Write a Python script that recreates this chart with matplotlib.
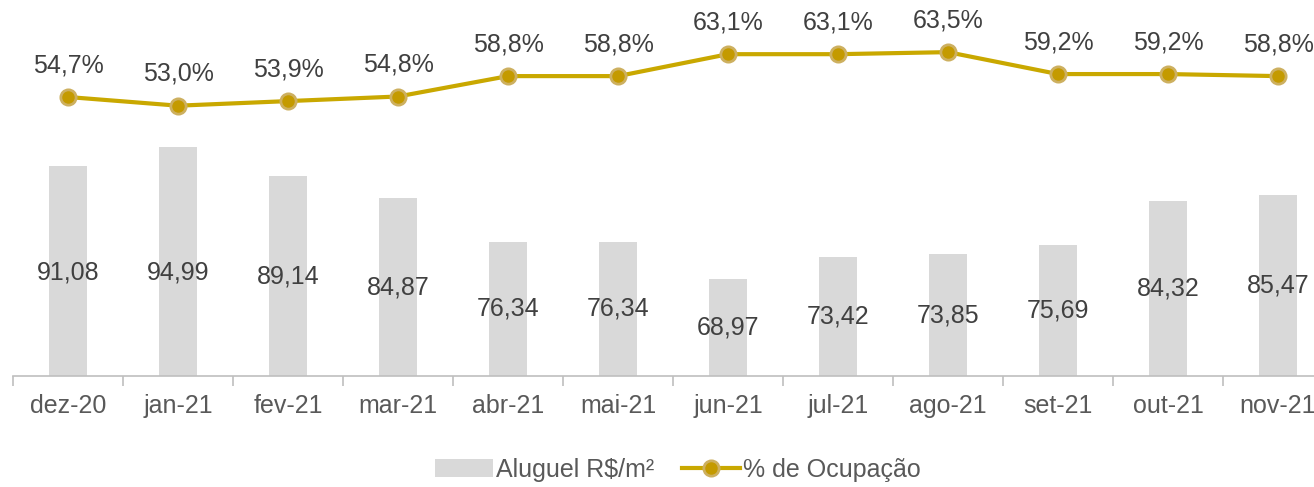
import numpy as np
import matplotlib
matplotlib.use('Agg')
import matplotlib.pyplot as plt
from matplotlib.patches import Patch
from matplotlib.lines import Line2D

plt.rcParams['font.family'] = ['Liberation Sans', 'DejaVu Sans']

months = ['dez-20', 'jan-21', 'fev-21', 'mar-21', 'abr-21', 'mai-21',
          'jun-21', 'jul-21', 'ago-21', 'set-21', 'out-21', 'nov-21']
aluguel = [91.08, 94.99, 89.14, 84.87, 76.34, 76.34,
           68.97, 73.42, 73.85, 75.69, 84.32, 85.47]
ocupacao = [54.7, 53.0, 53.9, 54.8, 58.8, 58.8,
            63.1, 63.1, 63.5, 59.2, 59.2, 58.8]

bar_color = '#D9D9D9'
line_color = '#C9A800'
txt_color = '#404040'
tick_color = '#595959'
fs = 18

fig = plt.figure(figsize=(13.14, 4.87), dpi=100)
ax = fig.add_axes([13 / 1314, 0.228, 1320 / 1314, 0.733])
x = np.arange(len(months))

base = 50
ax.bar(x, np.array(aluguel) - base, bottom=base, width=0.34, color=bar_color, zorder=1)
for xi, v in zip(x, aluguel):
    # label sits mid-bar, but not above the mid-height of the tallest labels
    ax.text(xi, min((v + base) / 2, 70.2), f'{v:.2f}'.replace('.', ','),
            ha='center', va='center', fontsize=fs, color=txt_color)
ax.set_ylim(base, 120)
ax.set_xlim(-0.5, len(months) - 0.5)
ax.set_yticks([])
for s in ['top', 'right', 'left']:
    ax.spines[s].set_visible(False)
ax.spines['bottom'].set_color('#BFBFBF')
ax.spines['bottom'].set_linewidth(1.2)
ax.set_xticks(x)
ax.set_xticklabels(months, fontsize=fs, color=tick_color)
ax.tick_params(axis='x', length=0, pad=13)
ax.set_xticks(np.arange(-0.5, len(months)), minor=True)
ax.tick_params(axis='x', which='minor', length=7, color='#BFBFBF', width=1.2)

ax2 = ax.twinx()
ax2.plot(x, ocupacao, color=line_color, lw=3, marker='o', markersize=11,
         markerfacecolor='#C49A00', markeredgecolor='#CDB060', markeredgewidth=2, zorder=3)
for xi, v in zip(x, ocupacao):
    ax2.annotate(f'{v:.1f}%'.replace('.', ','), (xi, v), xytext=(0, 23),
                 textcoords='offset points', ha='center', va='center',
                 fontsize=fs, color=txt_color)
ax2.set_ylim(0, 70)
ax2.set_yticks([])
for s in ['top', 'right', 'left', 'bottom']:
    ax2.spines[s].set_visible(False)

handles = [Patch(facecolor=bar_color, edgecolor='none', label='Aluguel R$/m²'),
           Line2D([0], [0], color=line_color, lw=3, marker='o', markersize=11,
                  markerfacecolor='#C49A00', markeredgecolor='#CDB060',
                  markeredgewidth=2, label='% de Ocupação')]
leg = fig.legend(handles=handles, loc='center', bbox_to_anchor=(0.516, 0.035), ncol=2,
                 frameon=False, fontsize=fs, handlelength=2.3, handletextpad=0.15,
                 columnspacing=1.1)
for t in leg.get_texts():
    t.set_color(tick_color)

fig.savefig('out.png', dpi=100)
